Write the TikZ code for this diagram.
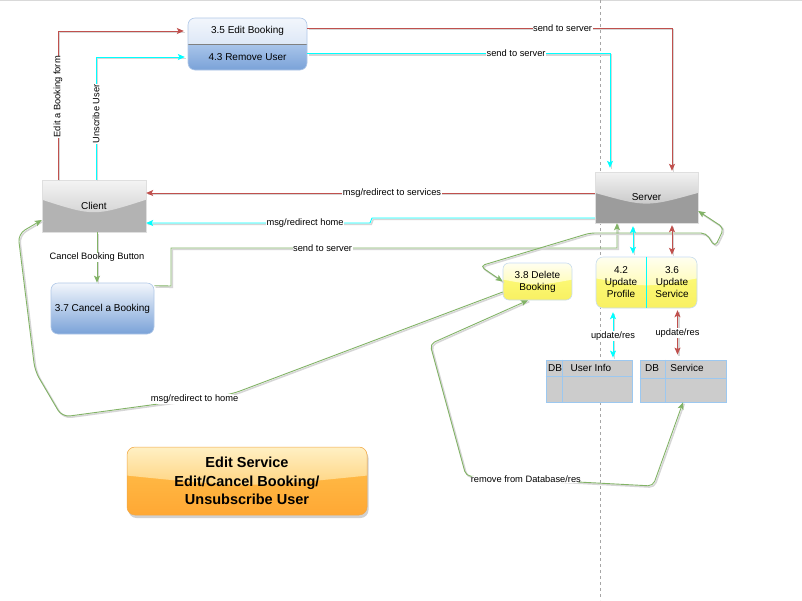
\documentclass[tikz,border=0pt]{standalone}
\usepackage{fontspec}
\setmainfont{Liberation Sans}
\usetikzlibrary{arrows.meta,calc}

\definecolor{cred}{HTML}{C0504D}
\definecolor{ccyan}{HTML}{00FFFF}
\definecolor{cgreen}{HTML}{82B366}
\definecolor{shad}{HTML}{D6D6D6}
\definecolor{clt}{HTML}{F4F4F4}
\definecolor{clm}{HTML}{D2D2D2}
\definecolor{clb}{HTML}{B3B3B3}
\definecolor{svt}{HTML}{F2F2F2}
\definecolor{svm}{HTML}{C6C6C6}
\definecolor{svb}{HTML}{9C9C9C}
\definecolor{bl1}{HTML}{F2F6FC}
\definecolor{bl2}{HTML}{C9DAF1}
\definecolor{bl3}{HTML}{A9C5EA}
\definecolor{bl4}{HTML}{7AA2D8}
\definecolor{bluebd}{HTML}{B0C8E8}
\definecolor{yl1}{HTML}{FFFEF0}
\definecolor{yl2}{HTML}{FFFCB4}
\definecolor{yl3}{HTML}{FFFF82}
\definecolor{yl4}{HTML}{F8F062}
\definecolor{ylbd}{HTML}{C8DCF4}
\definecolor{or1}{HTML}{FFF0C4}
\definecolor{or2}{HTML}{FFD27C}
\definecolor{or3}{HTML}{FFC24E}
\definecolor{or4}{HTML}{FFA834}
\definecolor{orbd}{HTML}{F0A848}
\definecolor{dbgray}{HTML}{CCCCCC}
\definecolor{dbbd}{HTML}{9CC8F0}

\tikzset{
  >={Stealth[length=7pt,width=6pt,inset=1.5pt]},
  conn/.style={line width=0.9pt,
    preaction={draw=shad, line width=1.5pt, -, transform canvas={shift={(1.3pt,-1.3pt)}}}},
  lbl/.style={fill=white, text=black, inner sep=0.6pt, font=\fontsize{9.3pt}{11pt}\selectfont},
  ntext/.style={text=black, align=center, inner sep=0pt, font=\fontsize{10pt}{12pt}\selectfont},
  glossy/.style n args={6}{path picture={
    \shade[sharp corners, top color=#3, bottom color=#4]
      (path picture bounding box.north west) rectangle (path picture bounding box.south east);
    \shade[sharp corners, top color=#1, bottom color=#2]
      (path picture bounding box.north west) -- (path picture bounding box.north east)
      -- ($(path picture bounding box.north east)!#5!(path picture bounding box.south east)$)
      .. controls ($(path picture bounding box.north)!#6!(path picture bounding box.south)$) ..
      ($(path picture bounding box.north west)!#5!(path picture bounding box.south west)$) -- cycle;
  }},
}

\begin{document}
\begin{tikzpicture}[x=1pt,y=-1pt]
\useasboundingbox (0,0) rectangle (802,600);
\fill[white] (0,0) rectangle (802,600);
\draw[gray!30, line width=1pt] (0,0.5) -- (802,0.5);
\draw[gray!70, line width=0.6pt, dash pattern=on 3pt off 3pt] (600.5,0) -- (600.5,600);

% Client and Server
\node[draw=gray!25, line width=0.4pt, minimum width=104pt, minimum height=52pt, inner sep=0pt,
  glossy={clt}{clm}{clb}{clb}{0.38}{0.70}, ntext] (client) at (94,206) {Client};
\node[draw=gray!25, line width=0.4pt, minimum width=103pt, minimum height=51pt, inner sep=0pt,
  glossy={svt}{svm}{svb}{svb}{0.41}{0.69}, ntext] (server) at (646.5,197.5) {Server};

% 3.5 / 4.3 box
\node[draw=bluebd, line width=0.6pt, rounded corners=7pt, minimum width=119pt, minimum height=52pt, inner sep=0pt,
  path picture={
    \shade[sharp corners, top color=bl1, bottom color=bl2]
      (path picture bounding box.north west) rectangle (path picture bounding box.east);
    \shade[sharp corners, top color=bl3, bottom color=bl4]
      (path picture bounding box.west) rectangle (path picture bounding box.south east);
    \draw[sharp corners, gray, line width=0.7pt]
      (path picture bounding box.west) -- (path picture bounding box.east);
  }] (erbox) at (247.5,44) {};
\node[ntext, minimum width=119pt, minimum height=26pt] (eb) at (247.5,31) {3.5 Edit Booking};
\node[ntext, minimum width=119pt, minimum height=26pt] (ru) at (247.5,57) {4.3 Remove User};

% 3.7
\node[draw=bluebd, line width=0.6pt, rounded corners=7pt, minimum width=103pt, minimum height=51pt,
  top color=bl1, bottom color=bl4, ntext] (cb) at (102.5,308.5) {3.7 Cancel a Booking};

% 3.8
\node[draw=ylbd, line width=0.6pt, rounded corners=6pt, minimum width=69pt, minimum height=37pt,
  glossy={yl1}{yl2}{yl3}{yl4}{0.45}{0.62}, ntext] (db8) at (537.5,281.5) {3.8 Delete\\Booking};

% 4.2 / 3.6
\node[draw=ylbd, line width=0.6pt, rounded corners=7pt, minimum width=101pt, minimum height=51pt, inner sep=0pt,
  glossy={yl1}{yl2}{yl3}{yl4}{0.42}{0.60}] (upbox) at (646.5,282.5) {};
\draw[ccyan, line width=0.9pt] (upbox.north) -- (upbox.south);
\node[ntext, minimum width=50pt, minimum height=51pt] (up) at (621,282.5) {4.2\\Update\\Profile};
\node[ntext, minimum width=50pt, minimum height=51pt] (us) at (672,282.5) {3.6\\Update\\Service};

% DB tables
\node[draw=dbbd, fill=dbgray, line width=0.8pt, minimum width=86pt, minimum height=42pt, inner sep=0pt] (dbu) at (589,381) {};
\draw[dbbd, line width=0.7pt] ([xshift=17pt]dbu.north west) -- ([xshift=17pt]dbu.south west);
\draw[dbbd, line width=0.7pt] ([yshift=-17pt]dbu.north west) -- ([yshift=-17pt]dbu.north east);
\node[ntext] (dbu1) at (555,368) {DB};
\node[ntext] (dbu2) at (591,368) {User Info};

\node[draw=dbbd, fill=dbgray, line width=0.8pt, minimum width=86pt, minimum height=42pt, inner sep=0pt] (dbs) at (683,381) {};
\draw[dbbd, line width=0.7pt] ([xshift=26pt]dbs.north west) -- ([xshift=26pt]dbs.south west);
\draw[dbbd, line width=0.7pt] ([yshift=-19pt]dbs.north west) -- ([yshift=-19pt]dbs.north east);
\node[ntext] (dbs1) at (652,368) {DB};
\node[ntext] (dbs2) at (687,368) {Service};

% Title
\fill[black, opacity=0.18, rounded corners=8pt] (128.5,450) rectangle (368.5,518);
\node[draw=orbd, line width=0.5pt, rounded corners=8pt, minimum width=240pt, minimum height=68pt, inner sep=0pt,
  glossy={or1}{or2}{or3}{or4}{0.42}{0.60}, align=center, text=black,
  font=\bfseries\fontsize{14.5pt}{18.5pt}\selectfont] (title) at (247,481)
  {Edit Service\\Edit/Cancel Booking/\\Unsubscribe User};

% Connectors
\draw[conn, cred, ->, shorten >=4pt] ([xshift=-36pt]client.north) |- node[lbl, rotate=90, pos=0.279]{Edit a Booking form} (eb.west);
\draw[conn, ccyan, ->, shorten >=3pt] ([xshift=2pt]client.north) |- node[lbl, rotate=90, pos=0.268]{Unscribe User} (ru.west);
\draw[conn, cred, ->, shorten >=1pt] ([yshift=3pt]eb.east) -| node[lbl, pos=0.35]{send to server} ([xshift=25.5pt]server.north);
\draw[conn, ccyan, ->, shorten >=4pt] ([yshift=3.5pt]ru.east) -| node[lbl, pos=0.345]{send to server} ([xshift=-36.5pt]server.north);

\draw[conn, cred, ->] ([yshift=4.5pt]server.west) -- node[lbl, pos=0.452]{msg/redirect to services} ([yshift=4.5pt]server.west -| client.east);
\draw[conn, ccyan, ->] ([yshift=-20.5pt]server.west) -- (372,218) -- (370,223) -- node[lbl, pos=0.29]{msg/redirect home} ([yshift=-17pt]client.east);

\draw[conn, cgreen, ->] ([xshift=3pt]client.south) -- node[lbl]{Cancel Booking Button} ([xshift=3pt]client.south |- cb.north);
\draw[conn, cgreen, ->] ([yshift=-3pt]cb.north east) -- (171,286) -- (171,248) -| node[lbl, pos=0.17]{send to server} ([xshift=-29.5pt]server.south);

\draw[conn, cgreen, ->, rounded corners=8pt] ([yshift=-10.5pt]db8.west) -- (232,394) -- node[lbl, pos=0.22]{msg/redirect to home} (62,417) -- (35,371) -- (18,234) -- ([yshift=-14pt]client.west);

\draw[conn, cgreen, <->, rounded corners=5pt] ([yshift=-13.5pt]server.east) -- (724,228) -- (715,247) -- (706,233) -- (590,233) -- (480,266) -- (db8.west);

\draw[conn, cgreen, <->, rounded corners=5pt] ([xshift=-9.5pt]db8.south) -- (430,344) -- (466,476) -- node[lbl, pos=0.32]{remove from Database/res} (653,486) -- (dbs.south);

\draw[conn, ccyan, <->, shorten <=3pt, shorten >=3pt] ([xshift=-13.5pt]server.south) -- ([xshift=-13.5pt]server.south |- up.north);
\draw[conn, cred, <->, shorten <=2pt, shorten >=2pt] ([xshift=25.5pt]server.south) -- ([xshift=25.5pt]server.south |- us.north);
\draw[conn, ccyan, <->, shorten <=4pt, shorten >=2pt] ([xshift=-8pt]up.south) -- node[lbl, pos=0.54]{update/res} ([xshift=-8pt]up.south |- dbu.north);
\draw[conn, cred, <->, shorten <=2pt, shorten >=5pt] ([xshift=5.5pt]us.south) -- node[lbl, pos=0.48]{update/res} ([xshift=5.5pt]us.south |- dbs.north);
\end{tikzpicture}
\end{document}
